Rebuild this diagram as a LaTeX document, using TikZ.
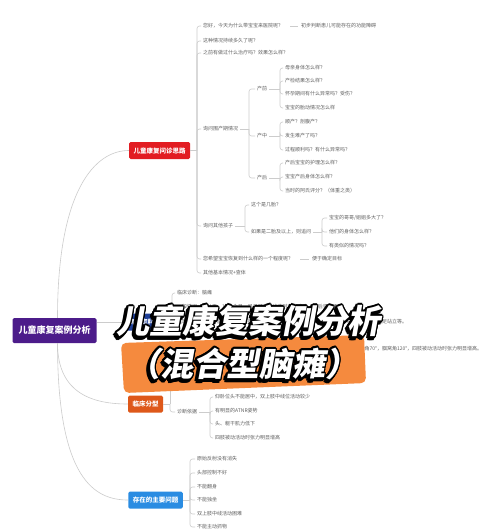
\documentclass[tikz,border=0pt]{standalone}
\usepackage{fontspec}
\setmainfont{Noto Sans CJK SC}
\newfontfamily\titlefont[FakeSlant=0.18]{Noto Sans CJK SC}
\usepackage{tikz}
\usetikzlibrary{calc,positioning}
\definecolor{rootpurple}{RGB}{76,28,138}
\definecolor{askred}{RGB}{226,28,34}
\definecolor{casenavy}{RGB}{32,64,152}
\definecolor{typeorange}{RGB}{222,88,26}
\definecolor{probblue}{RGB}{42,140,226}
\definecolor{linegrey}{RGB}{204,204,204}
\definecolor{leafgrey}{RGB}{96,96,96}
\definecolor{brush}{RGB}{245,138,62}
\tikzset{
  topic/.style={fill=#1,text=white,rounded corners=1.5pt,inner xsep=4.5pt,
                minimum height=17,font=\fontsize{6.5}{7}\selectfont\bfseries},
  leaf/.style={anchor=west,inner xsep=2pt,inner ysep=1pt,text=leafgrey,
               font=\fontsize{5}{6}\selectfont},
  conn/.style={draw=linegrey,line width=0.6pt},
  brk/.style={conn,rounded corners=2.5pt},
  dashto/.style={conn,shorten <=5pt,shorten >=1pt},
  titletxt/.style={font=\titlefont\fontsize{33}{36}\selectfont\bfseries,inner sep=0pt},
}

\begin{document}
\begin{tikzpicture}[x=1pt,y=-1pt]
  \fill[white] (0,0) rectangle (500,532);
  \useasboundingbox (0,0) rectangle (500,532);

  % --- hoofdonderwerpen ---------------------------------------------------
  \node[topic=rootpurple,minimum height=25,inner xsep=6pt,
        font=\fontsize{9}{10}\selectfont\bfseries] (root) at (54.5,330.5) {儿童康复案例分析};
  \node[topic=askred]     (ask)  at (159.5,150.5) {儿童康复问诊思路};
  \node[topic=casenavy]   (case) at (141,322)     {病例资料};
  \node[topic=typeorange] (type) at (145.5,404)   {临床分型};
  \node[topic=probblue]   (prob) at (155.5,500)   {存在的主要问题};

  \draw[conn] ($(root.north)+(3,0)$) .. controls (57.5,190) and (95,150.5) .. (ask.west);
  \draw[conn] (root.east |- case.west) -- (case.west);
  \draw[conn] ($(root.south)+(3,0)$) .. controls (57.5,395) and (95,404) .. (type.west);
  \draw[conn] ($(root.south)+(3,0)$) .. controls (57.5,480) and (95,500) .. (prob.west);

  % --- problems: questions ------------------------------------------------
  \node[leaf] (q1)   at (201,26)  {您好，今天为什么带宝宝来医院呢？};
  \node[leaf] (q1a)  at (299,26)  {初步判断患儿可能存在的功能障碍};
  \node[leaf] (q2)   at (201,41)  {这种情况持续多久了呢？};
  \node[leaf] (q3)   at (201,53)  {之前有做过什么治疗吗？效果怎么样？};
  \node[leaf] (peri) at (201,129) {询问围产期情况};
  \node[leaf] (sib)  at (201,226) {询问其他孩子};
  \node[leaf] (goal) at (201,259) {您希望宝宝恢复到什么样的一个程度呢？};
  \node[leaf] (goala) at (310,259) {便于确定目标};
  \node[leaf] (misc) at (201,273) {其他基本情况+查体};

  \coordinate (askb) at (197,150.5);
  \draw[conn] (ask.east) -- (askb);
  \foreach \c in {q1,q2,q3,peri,sib,goal,misc} \draw[brk] (askb) |- (\c.west);
  \draw[dashto] (q1.east) -- (q1a.west);
  \draw[dashto] (goal.east) -- (goala.west);

  % perinatal
  \node[leaf] (pre)  at (255,89)  {产前};
  \node[leaf] (mid)  at (255,136) {产中};
  \node[leaf] (post) at (255,178) {产后};
  \coordinate (perib) at (249,129);
  \draw[conn] (peri.east) -- (perib);
  \foreach \c in {pre,mid,post} \draw[brk] (perib) |- (\c.west);

  \node[leaf] (pre1) at (283,68)  {母亲身体怎么样？};
  \node[leaf] (pre2) at (283,81)  {产检结果怎么样？};
  \node[leaf] (pre3) at (283,94)  {怀孕期间有什么异常吗？受伤？};
  \node[leaf] (pre4) at (283,108) {宝宝的胎动情况怎么样};
  \coordinate (preb) at (280,89);
  \draw[conn] (pre.east) -- (preb);
  \foreach \c in {pre1,pre2,pre3,pre4} \draw[brk] (preb) |- (\c.west);

  \node[leaf] (mid1) at (283,122) {顺产？剖腹产？};
  \node[leaf] (mid2) at (283,136) {发生难产了吗？};
  \node[leaf] (mid3) at (283,150) {过程顺利吗？有什么异常吗？};
  \coordinate (midb) at (280,136);
  \draw[conn] (mid.east) -- (midb);
  \foreach \c in {mid1,mid2,mid3} \draw[brk] (midb) |- (\c.west);

  \node[leaf] (post1) at (283,163) {产后宝宝的护理怎么样？};
  \node[leaf] (post2) at (283,177) {宝宝产后身体怎么样？};
  \node[leaf] (post3) at (283,191) {当时的阿氏评分？（体重之类）};
  \coordinate (postb) at (280,178);
  \draw[conn] (post.east) -- (postb);
  \foreach \c in {post1,post2,post3} \draw[brk] (postb) |- (\c.west);

  % siblings
  \node[leaf] (sib1) at (249,205) {这个是几胎？};
  \node[leaf] (sib2) at (249,232) {如果是二胎及以上，则追问};
  \coordinate (sibb) at (245,226);
  \draw[conn] (sib.east) -- (sibb);
  \foreach \c in {sib1,sib2} \draw[brk] (sibb) |- (\c.west);

  \node[leaf] (s1) at (327,218) {宝宝的哥哥/姐姐多大了？};
  \node[leaf] (s2) at (327,232) {他们的身体怎么样？};
  \node[leaf] (s3) at (327,246) {有类似的情况吗？};
  \coordinate (sib2b) at (322,232);
  \draw[conn] (sib2.east) -- (sib2b);
  \foreach \c in {s1,s2,s3} \draw[brk] (sib2b) |- (\c.west);

  % --- case data ----------------------------------------------------------
  \node[leaf] (c1) at (175,293) {临床诊断：脑瘫};
  \node[leaf] (c2) at (175,307) {一般情况：患儿男，1岁6个月，足月顺产，出生时有窒息史，生后竖头不稳，};
  \node[leaf] (c3) at (175,322) {运动发育：至今不能翻身、不能独坐，双手不能主动抓物，扶腋下站立时双下肢内收交叉，尖足站立等。};
  \node[leaf] (c4) at (175,349) {查体：竖头不稳，俯卧位不能抬头，拉坐时头明显后垂，双侧内收肌角约70°，足背屈角70°，腘窝角120°，四肢被动活动时张力明显增高。};
  \coordinate (caseb) at (172,322);
  \draw[conn] (case.east) -- (caseb);
  \foreach \c in {c1,c2,c3,c4} \draw[brk] (caseb) |- (\c.west);

  % --- clinical type ------------------------------------------------------
  \node[leaf] (t1) at (175,412) {诊断依据};
  \coordinate (typeb) at (170,404);
  \coordinate (typetop) at (170,380);
  \draw[conn] (type.east) -- (typeb);
  \draw[conn] (typeb) -- (typetop);
  \draw[brk] (typeb) |- (t1.west);

  \node[leaf] (d1) at (213,397) {仰卧位头不能居中，双上肢中线位活动较少};
  \node[leaf] (d2) at (213,411) {有明显的ATNR姿势};
  \node[leaf] (d3) at (213,424) {头、躯干肌力低下};
  \node[leaf] (d4) at (213,438) {四肢被动活动时张力明显增高};
  \coordinate (t1b) at (210,412);
  \draw[conn] (t1.east) -- (t1b);
  \foreach \c in {d1,d2,d3,d4} \draw[brk] (t1b) |- (\c.west);

  % --- main problems ------------------------------------------------------
  \node[leaf] (p1) at (195,459) {原始反射没有消失};
  \node[leaf] (p2) at (195,473) {头部控制不好};
  \node[leaf] (p3) at (195,487) {不能翻身};
  \node[leaf] (p4) at (195,500) {不能独坐};
  \node[leaf] (p5) at (195,514) {双上肢中线活动困难};
  \node[leaf] (p6) at (195,527) {不能主动抓物};
  \coordinate (probb) at (190,500);
  \draw[conn] (prob.east) -- (probb);
  \foreach \c in {p1,p2,p3,p4,p5,p6} \draw[brk] (probb) |- (\c.west);

  % --- title overlay ------------------------------------------------------
  \fill[brush,rounded corners=5pt] (121,343) -- (364,335) -- (366,383) -- (124,393) -- cycle;
  \coordinate (tpa) at (248,321);
  \coordinate (tpb) at (242.5,364);
  \foreach \a [count=\i] in {0,45,...,315} {
    \node[titletxt,text=black] (tas\i) at ([shift={(\a:1.8pt)}]$(tpa)+(-1.5,2.2)$) {儿童康复案例分析};
    \node[titletxt,text=black] (tbs\i) at ([shift={(\a:1.8pt)}]$(tpb)+(-1.5,2.2)$) {（混合型脑瘫）};
  }
  \foreach \a [count=\i] in {0,22.5,...,337.5} {
    \node[titletxt,text=black] (tao\i) at ([shift={(\a:1.8pt)}]tpa) {儿童康复案例分析};
    \node[titletxt,text=black] (tbo\i) at ([shift={(\a:1.8pt)}]tpb) {（混合型脑瘫）};
  }
  \node[titletxt,text=white] (titlea) at (tpa) {儿童康复案例分析};
  \node[titletxt,text=white] (titleb) at (tpb) {（混合型脑瘫）};

\end{tikzpicture}
\end{document}
